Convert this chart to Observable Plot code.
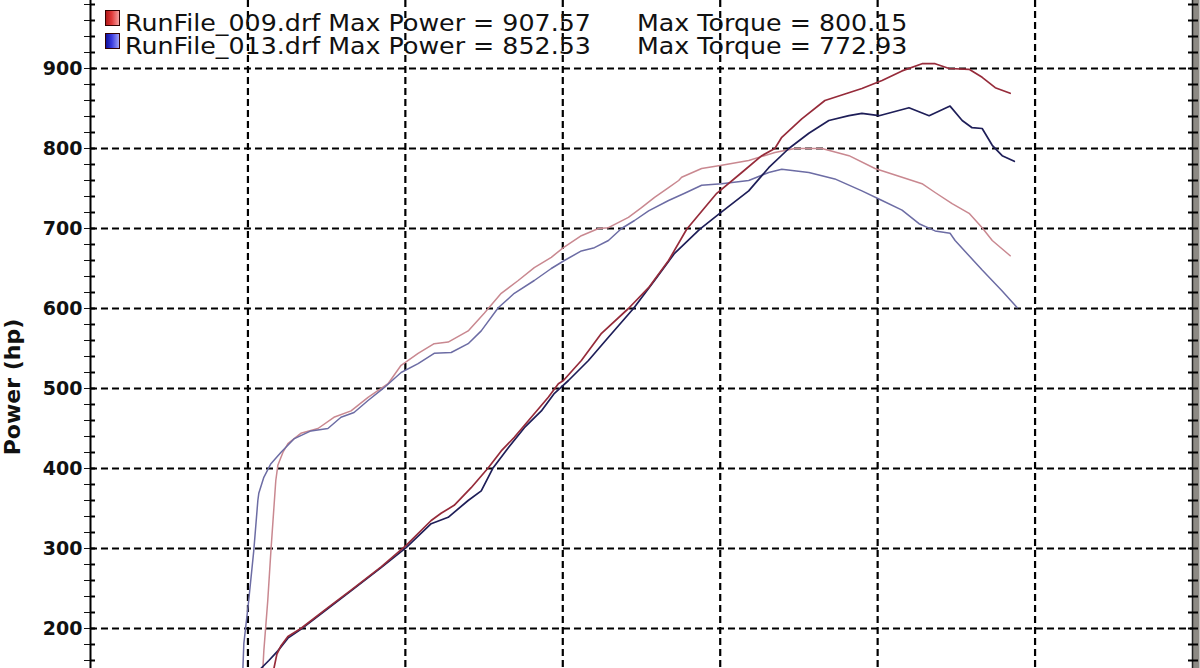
<!DOCTYPE html>
<html><head><meta charset="utf-8">
<script src="https://cdn.jsdelivr.net/npm/d3@7"></script>
<script src="https://cdn.jsdelivr.net/npm/@observablehq/plot@0.6"></script>
<style>
html,body{margin:0;padding:0;background:#fff;}
#wrap{position:relative;width:1200px;height:668px;overflow:hidden;background:#fff;}
#chart svg{display:block;}
.leg{position:absolute;left:0;top:0;font-family:"DejaVu Sans",Verdana,sans-serif;font-size:23px;line-height:23px;color:#111;white-space:pre;transform-origin:0 0;transform:scaleX(1.1);}
.sw{position:absolute;width:15px;height:16px;border:1px solid #300;box-sizing:border-box;}
#ylab{position:absolute;left:0;top:0;transform-origin:0 0;font-family:"DejaVu Sans",Verdana,sans-serif;font-weight:bold;font-size:22px;line-height:22px;white-space:nowrap;color:#111;}
</style></head><body>
<div id="wrap"><div id="chart"></div></div>
<script>
// ---- data (x = engine rpm, y = hp / torque readings) ----
const runNames = ["RunFile_009.drf", "RunFile_013.drf"];
const maxPower = ["907.57", "852.53"];
const maxTorque = ["800.15", "772.93"];

const rpmRedPower = [3165,3184,3209,3254,3336,3508,3655,3846,4005,4164,4227,4310,4418,4527,4609,4692,4800,4908,4972,5004,5118,5246,5417,5545,5672,5787,5901,5978,6137,6264,6347,6391,6518,6665,6900,7028,7155,7282,7365,7454,7581,7664,7747,7842];
const hpRedPower  = [150,168,178,190,200,226,248,277,304,335,344,354,376,401,422,439,464,489,506,510,535,569,600,626,660,699,726,744,770,791,800,814,837,860,875,885,897,906,906,900,899,889,876,869];

const rpmBluePower = [3082,3133,3190,3254,3336,3508,3655,3846,4005,4164,4272,4399,4482,4558,4654,4756,4864,4947,5036,5163,5290,5449,5583,5710,5869,5997,6181,6308,6436,6563,6690,6818,6900,7009,7199,7327,7460,7537,7600,7664,7728,7791,7868];
const hpBluePower  = [150,160,172,188,199,225,247,276,301,331,339,360,372,401,426,451,472,494,510,535,564,600,635,669,699,719,747,776,800,819,835,841,844,841,851,841,853,835,826,825,804,791,784];

const rpmRedTorque = [3095,3101,3126,3146,3165,3177,3190,3222,3254,3336,3445,3546,3655,3763,3890,3973,4081,4183,4272,4399,4501,4609,4717,4819,4927,5004,5118,5227,5290,5417,5500,5583,5672,5736,5755,5882,6009,6181,6347,6474,6646,6818,6983,7155,7282,7365,7473,7581,7664,7728,7842];
const tqRedTorque  = [150,172,235,297,351,385,404,420,431,444,450,464,472,489,506,529,544,556,558,572,594,619,635,651,664,676,691,700,701,714,726,739,751,760,764,775,779,785,795,800,800,791,775,764,756,745,731,719,701,685,666];

const rpmBlueTorque = [2968,2974,3005,3037,3063,3069,3101,3146,3209,3292,3400,3508,3591,3674,3763,3865,3973,4081,4183,4291,4399,4482,4590,4692,4819,4927,5010,5118,5201,5290,5373,5456,5545,5672,5774,5882,6009,6181,6308,6391,6563,6728,6900,7028,7155,7263,7365,7460,7492,7664,7791,7887];
const tqBlueTorque  = [150,181,235,297,360,369,389,406,420,437,447,450,464,470,485,501,520,531,544,545,556,572,601,619,635,650,660,672,676,685,700,710,722,735,744,754,756,760,770,774,770,762,747,735,723,706,697,694,685,648,622,601];

const yMajorTicks = [200,300,400,500,600,700,800,900];
const yMinorTicks = d3.range(160, 985, 20);
const xGridTicks = [3000,4000,5000,6000,7000,8000];
const xMin = 2000, xMax = 9000;

// ---- build tables ----
const toRows = (xs, ys) => xs.map((x, i) => ({rpm: x, v: ys[i]}));
const redPower = toRows(rpmRedPower, hpRedPower);
const bluePower = toRows(rpmBluePower, hpBluePower);
const redTorque = toRows(rpmRedTorque, tqRedTorque);
const blueTorque = toRows(rpmBlueTorque, tqBlueTorque);

const C = {redPower:"#962b3a", redTorque:"#c98890", bluePower:"#1e1e58", blueTorque:"#6c6ca4"};
const dash = {stroke:"#000", strokeOpacity:1, strokeWidth:2.2, strokeDasharray:"7,4"};
const tickLen = 5 * (xMax - xMin) / 1102; // ~5px in rpm units

const chart = Plot.plot({
  width: 1200, height: 668,
  marginLeft: 90, marginRight: 8, marginTop: 0, marginBottom: 0,
  x: {domain: [xMin, xMax], axis: null},
  y: {domain: [150, 985], axis: "left", label: null, ticks: yMinorTicks, tickSize: 6,
      tickPadding: 2, tickFormat: d => (d % 100 === 0 && d >= 200 && d <= 900) ? String(d) : ""},
  style: {background: "transparent", overflow: "visible", fontFamily: "DejaVu Sans, Verdana, sans-serif",
          fontSize: "19px", fontWeight: "bold", color: "#111"},
  marks: [
    Plot.ruleY(yMajorTicks, {...dash, x1: xMin, x2: xMax}),
    Plot.ruleX(xGridTicks, dash),
    Plot.line(redTorque, {x: "rpm", y: "v", stroke: C.redTorque, strokeWidth: 1.5, clip: true}),
    Plot.line(blueTorque, {x: "rpm", y: "v", stroke: C.blueTorque, strokeWidth: 1.5, clip: true}),
    Plot.line(bluePower, {x: "rpm", y: "v", stroke: C.bluePower, strokeWidth: 1.7, clip: true}),
    Plot.line(redPower, {x: "rpm", y: "v", stroke: C.redPower, strokeWidth: 1.7, clip: true}),
    Plot.ruleX([xMin], {stroke: "#000", strokeWidth: 2}),
    Plot.ruleY(yMinorTicks, {x1: xMin, x2: xMin + tickLen, stroke: "#000", strokeWidth: 2}),
    Plot.ruleX([xMax], {stroke: "#8d8a84", strokeWidth: 7, dx: 3.5}),
    Plot.ruleX([xMax], {stroke: "#222", strokeWidth: 1.5}),
    Plot.ruleY(yMinorTicks, {x1: xMax - tickLen * 0.8, x2: xMax + tickLen * 1.2, stroke: "#000", strokeWidth: 2})
  ]
});
document.getElementById("chart").append(chart);

// ---- legend (text) ----
const wrap = document.getElementById("wrap");
const swatchBg = ["linear-gradient(90deg,#b01818 0%,#e23a3a 45%,#f5a0a0 100%)", "linear-gradient(90deg,#10109a 0%,#3a3ae0 45%,#a0a0f5 100%)"];
runNames.forEach((name, i) => {
  const sw = document.createElement("div");
  sw.className = "sw";
  sw.style.left = "105px";
  sw.style.top = (10 + i * 23) + "px";
  sw.style.background = swatchBg[i];
  wrap.append(sw);
});
const colA = document.createElement("div");
colA.className = "leg";
colA.style.left = "125px";
colA.style.top = "12px";
colA.textContent = runNames.map((n, i) => `${n} Max Power = ${maxPower[i]}`).join("\n");
wrap.append(colA);
const colB = document.createElement("div");
colB.className = "leg";
colB.style.left = "637px";
colB.style.top = "12px";
colB.textContent = maxTorque.map(t => `Max Torque = ${t}`).join("\n");
wrap.append(colB);

const yl = document.createElement("div");
yl.id = "ylab";
yl.textContent = "Power (hp)";
yl.style.transform = "translate(20px, 387px) rotate(-90deg) translate(-50%, -18px)";
wrap.append(yl);
</script>
</body></html>
